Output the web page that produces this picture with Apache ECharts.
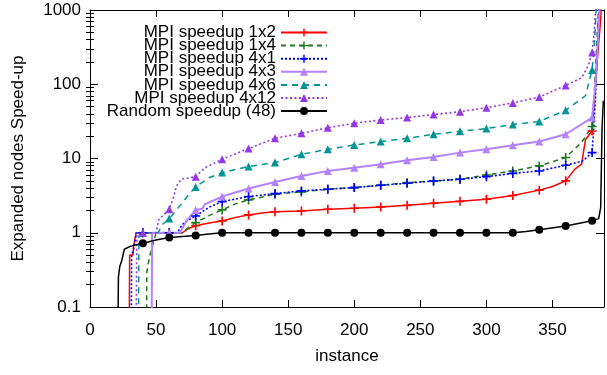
<!DOCTYPE html>
<html>
<head>
<meta charset="utf-8">
<script src="https://cdn.jsdelivr.net/npm/echarts@6/dist/echarts.min.js"></script>
<style>
html,body{margin:0;padding:0;background:#fff;}
#c{width:607px;height:375px;}
</style>
</head>
<body>
<div id="c"></div>
<script>
// ---- data: [instance, speed-up] ----
const speedup1x2 = [[29.5,0.01],[30,0.5],[32.5,0.5],[33,0.66],[35,1.0],[40,1.0],[60,1.0],[70,1.0],[75,1.15],[80,1.24],[90,1.35],[100,1.44],[110,1.6],[120,1.74],[130,1.85],[140,1.92],[160,1.97],[180,2.07],[200,2.14],[220,2.23],[240,2.34],[260,2.5],[280,2.65],[300,2.83],[320,3.17],[340,3.75],[350,4.2],[360,5.0],[367,7.2],[372,8.4],[375,18],[380,23.5],[382,70],[384.5,290],[386.5,750],[388,3000]];
const speedup1x4 = [[42.5,0.01],[43,0.3],[45,0.47],[50,1.0],[60,1.0],[70,1.0],[75,1.2],[80,1.37],[90,1.7],[100,2.03],[110,2.45],[120,2.77],[140,3.3],[160,3.55],[180,3.85],[200,4.06],[220,4.36],[240,4.73],[260,4.98],[280,5.25],[300,6.0],[320,6.8],[340,7.95],[360,10.3],[372,16.4],[380,27],[381.7,77],[383.5,360],[385,1100],[386,3000]];
const speedup4x1 = [[31,0.01],[31.5,0.5],[33,0.6],[35,1.0],[40,1.0],[60,1.0],[66,1.0],[70,1.3],[73,1.44],[80,1.68],[90,2.2],[100,2.63],[120,3.07],[140,3.37],[160,3.66],[180,3.85],[200,4.06],[220,4.36],[240,4.64],[260,4.98],[280,5.25],[300,5.7],[320,6.3],[340,6.8],[360,8.1],[373,9.3],[380,12],[381,22],[382.5,63],[384,300],[385.5,1500],[386.5,3000]];
const speedup4x3 = [[46.5,0.01],[47,1.0],[60,1.0],[68,1.0],[73,1.44],[80,2.03],[85,2.1],[87,2.42],[100,3.07],[120,3.94],[140,4.83],[160,5.82],[180,6.8],[200,7.5],[220,8.36],[240,9.47],[260,10.5],[280,12.0],[300,13.3],[320,15.1],[340,16.9],[360,21.2],[380,35.6],[382.5,100],[384.5,420],[386,1500],[387,3000]];
const speedup4x6 = [[36.5,0.01],[37,0.9],[38,1.0],[40,1.0],[51.5,1.0],[55,1.3],[60,1.55],[68,2.3],[75,3.3],[80,4.14],[90,5.5],[100,6.46],[120,7.8],[140,8.8],[160,11.4],[180,13.3],[200,15.2],[220,16.9],[240,18.7],[260,21.2],[280,23.2],[300,25.3],[320,28.6],[340,31.5],[360,44.6],[375,70],[380,156],[382,400],[383.5,1500],[384.5,3000]];
const speedup4x12 = [[34.5,0.01],[35.5,1.0],[40,1.0],[50,1.0],[52,1.5],[60,2.07],[63,2.9],[65.5,4.27],[69,5.25],[80,5.7],[87,7.5],[100,9.77],[120,13.6],[140,18.7],[160,21.8],[180,26.0],[200,29.8],[220,33],[240,35.6],[260,39],[280,42.7],[300,48.4],[320,56],[340,67.2],[360,96.5],[372,122],[377,176],[380,267],[382,600],[383,1500],[384,3000]];
const randomSpeedup = [[20.8,0.01],[21.5,0.25],[22.5,0.35],[24,0.42],[26,0.6],[30,0.65],[35,0.69],[40,0.72],[50,0.8],[60,0.86],[70,0.89],[80,0.92],[90,0.96],[100,1.0],[120,1.0],[140,1.0],[160,1.0],[180,1.0],[200,1.0],[220,1.0],[240,1.0],[260,1.0],[280,1.0],[300,1.0],[320,1.0],[330,1.04],[340,1.1],[360,1.23],[380,1.45],[385,1.55],[386.5,2.2],[387.5,25],[388.5,60]];

const seriesNames = ['MPI speedup 1x2','MPI speedup 1x4','MPI speedup 4x1','MPI speedup 4x3','MPI speedup 4x6','MPI speedup 4x12','Random speedup (48)'];
const xTicks = [0,50,100,150,200,250,300,350];
const yTicks = [0.1,1,10,100,1000];

// ---- styling ----
const PLUS = 'path://M4.1,0H5.9V4.1H10V5.9H5.9V10H4.1V5.9H0V4.1H4.1Z';
const styles = [
  {data: speedup1x2, color:'#ff0000', type:'solid', width:1.5, symbol:PLUS, size:9},
  {data: speedup1x4, color:'#1f7a1f', type:[5,4], width:1.5, symbol:PLUS, size:9},
  {data: speedup4x1, color:'#0000ff', type:[2,2], width:1.6, symbol:PLUS, size:9},
  {data: speedup4x3, color:'#b382ff', type:'solid', width:2, symbol:'triangle', size:8},
  {data: speedup4x6, color:'#009494', type:[6,5], width:1.5, symbol:'triangle', size:8},
  {data: speedup4x12, color:'#9438e6', type:[2,2.5], width:1.6, symbol:'triangle', size:8},
  {data: randomSpeedup, color:'#000000', type:'solid', width:1.5, symbol:'circle', size:8}
];

const minorTicks = [];
for (let d = -1; d <= 2; d++) for (let k = 2; k <= 9; k++) minorTicks.push(d + Math.log10(k));

const FONT = 'Liberation Sans';
const FS = 17;
const series = styles.map((s, i) => ({
  name: seriesNames[i],
  type: 'line',
  xAxisIndex: 0, yAxisIndex: 0,
  symbol: s.symbol,
  symbolSize: s.size,
  showSymbol: true,
  clip: true,
  lineStyle: {color: s.color, width: s.width, type: s.type},
  itemStyle: {color: s.color},
  emphasis: {disabled: true},
  data: s.data.map(p => ({
    value: p,
    symbol: (p[0] % 20 === 0 && p[0] >= 40 && p[0] <= 380) ? s.symbol : 'none'
  }))
}));

const chart = echarts.init(document.getElementById('c'), null, {renderer: 'canvas'});
chart.setOption({
  animation: false,
  backgroundColor: '#fff',
  textStyle: {fontFamily: FONT},
  grid: {left: 90, right: 1, top: 10, bottom: 68, containLabel: false},
  legend: {
    orient: 'vertical', align: 'right',
    right: 279, top: 24, padding: 0,
    itemWidth: 46, itemHeight: 10, itemGap: -3.9,
    textStyle: {fontSize: FS, color: '#000', fontFamily: FONT},
    data: seriesNames,
    selectedMode: false
  },
  xAxis: [
    {type: 'value', position: 'bottom', min: 0, max: 389, interval: 50,
     axisLine: {show: true, onZero: false, lineStyle: {color: '#000', width: 1}},
     axisTick: {show: true, inside: true, length: 7, lineStyle: {color: '#000'}},
     axisLabel: {show: true, color: '#000', fontSize: FS, margin: 15, fontFamily: FONT,
       formatter: v => xTicks.indexOf(v) >= 0 ? String(v) : ''},
     splitLine: {show: false},
     name: 'instance', nameLocation: 'middle', nameGap: 41,
     nameTextStyle: {fontSize: FS, color: '#000', fontFamily: FONT}},
    {type: 'value', position: 'top', min: 0, max: 389, interval: 50,
     axisLine: {show: true, onZero: false, lineStyle: {color: '#000', width: 1}},
     axisTick: {show: true, inside: true, length: 7, lineStyle: {color: '#000'}},
     axisLabel: {show: false}, splitLine: {show: false}}
  ],
  yAxis: [
    {type: 'log', logBase: 10, position: 'left', min: 0.1, max: 1000,
     axisLine: {show: true, onZero: false, lineStyle: {color: '#000', width: 1}},
     axisTick: {show: true, inside: true, length: 8, lineStyle: {color: '#000'}},
     axisLabel: {show: true, color: '#000', fontSize: FS, margin: 9, fontFamily: FONT,
       formatter: v => { const t = yTicks.find(u => Math.abs(u - v) / u < 1e-6); return t === undefined ? '' : String(t); }},
     splitLine: {show: false},
     name: 'Expanded nodes Speed-up', nameLocation: 'middle', nameGap: 63, nameRotate: 90,
     nameTextStyle: {fontSize: FS, color: '#000', fontFamily: FONT}},
    {type: 'log', logBase: 10, position: 'right', min: 0.1, max: 1000,
     axisLine: {show: true, onZero: false, lineStyle: {color: '#000', width: 1}},
     axisTick: {show: true, inside: true, length: 8, lineStyle: {color: '#000'}},
     axisLabel: {show: false}, splitLine: {show: false}},
    {type: 'value', position: 'left', min: -1, max: 3,
     axisLine: {show: false}, axisLabel: {show: false}, splitLine: {show: false},
     axisTick: {show: true, inside: true, length: 4, customValues: minorTicks, lineStyle: {color: '#000'}}},
    {type: 'value', position: 'right', min: -1, max: 3,
     axisLine: {show: false}, axisLabel: {show: false}, splitLine: {show: false},
     axisTick: {show: true, inside: true, length: 4, customValues: minorTicks, lineStyle: {color: '#000'}}}
  ],
  series: series
});
</script>
</body>
</html>
